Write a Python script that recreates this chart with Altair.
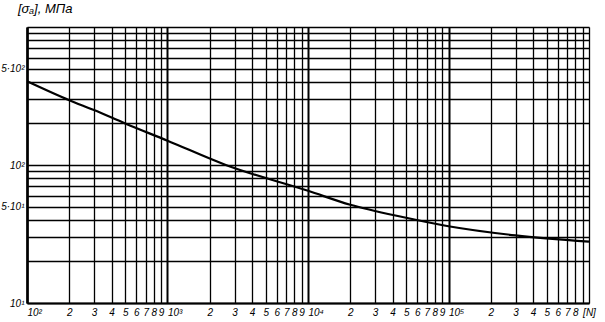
import altair as alt
import pandas as pd

# curve (N cycles, allowable stress MPa)
n_cycles = [100, 200, 300, 500, 1000, 2600, 10000, 20000, 48000,
            100000, 300000, 1000000]
sigma = [405, 295, 250, 200, 150, 100, 65, 51.5, 41.8, 36, 30.9, 27.8]

# axis ticks / labels
x_ticks = [100, 200, 300, 400, 500, 600, 700, 800, 900,
           1000, 2000, 3000, 4000, 5000, 6000, 7000, 8000, 9000,
           10000, 20000, 30000, 40000, 50000, 60000, 70000, 80000, 90000,
           100000, 200000, 300000, 400000, 500000, 600000, 700000, 800000, 900000,
           1000000]
x_labels = ["10²", "2", "3", "4", "5", "6", "7", "8", "9",
            "10³", "2", "3", "4", "5", "6", "7", "8", "9",
            "10⁴", "2", "3", "4", "5", "6", "7", "8", "9",
            "10⁵", "2", "3", "4", "5", "6", "7", "8", "",
            "[N]"]
x_power_ticks = [100, 1000, 10000, 100000]

y_ticks = [10, 20, 30, 40, 50, 60, 70, 80, 90,
           100, 200, 300, 400, 500, 600, 700, 800, 900, 1000]
y_labels = ["10¹", "", "", "", "5·10¹", "", "", "", "",
            "10²", "", "", "", "5·10²", "", "", "", "", ""]

df = pd.DataFrame({"N": n_cycles, "s": sigma})


def js_list(vals):
    return "[" + ",".join(repr(v) if isinstance(v, str) else str(v) for v in vals) + "]"


x_expr = f"{js_list(x_labels)}[indexof({js_list(x_ticks)}, datum.value)]"
y_expr = f"{js_list(y_labels)}[indexof({js_list(y_ticks)}, datum.value)]"
pow_test = f"indexof({js_list(x_power_ticks)}, datum.value) >= 0"

FONT = "Liberation Sans"

x_axis = alt.Axis(
    values=x_ticks,
    labelExpr=x_expr,
    title=None,
    ticks=False,
    grid=True,
    gridColor="black",
    gridOpacity=1,
    gridWidth={"condition": {"test": pow_test, "value": 2.0}, "value": 1.3},
    domainColor="black",
    domainWidth=2,
    labelAlign={"condition": {"test": pow_test, "value": "left"}, "value": "center"},
    labelFlush=False,
    labelOverlap=False,
    labelBound=False,
    labelPadding=4,
    labelFont=FONT,
    labelFontStyle="italic",
    labelFontSize=10,
    labelColor="black",
)

y_axis = alt.Axis(
    values=y_ticks,
    labelExpr=y_expr,
    title=None,
    ticks=False,
    grid=True,
    gridColor="black",
    gridOpacity=1,
    gridWidth=1.3,
    domainColor="black",
    domainWidth=2.5,
    labelFlush=False,
    labelOverlap=False,
    labelBound=False,
    labelPadding=3,
    labelFont=FONT,
    labelFontStyle="italic",
    labelFontSize=10,
    labelColor="black",
)

chart = (
    alt.Chart(df)
    .mark_line(color="black", strokeWidth=2.2, interpolate="monotone")
    .encode(
        x=alt.X("N:Q", scale=alt.Scale(type="log", domain=[100, 1000000], nice=False), axis=x_axis),
        y=alt.Y("s:Q", scale=alt.Scale(type="log", domain=[10, 1000], nice=False), axis=y_axis),
    )
    .properties(
        width=562,
        height=276,
        autosize=alt.AutoSizeParams(type="none"),
        padding={"left": 27, "top": 27, "right": 16, "bottom": 19},
        title=alt.TitleParams(
            text="[σₐ], МПа",
            anchor="start",
            frame="group",
            dx=-9,
            offset=6,
            font=FONT,
            fontStyle="italic",
            fontWeight="normal",
            fontSize=13,
            color="black",
        ),
    )
    .configure_view(stroke="black", strokeWidth=1.5)
    .configure(background="white")
)

chart.save("out.html", embed_options={"renderer": "svg", "actions": False})
